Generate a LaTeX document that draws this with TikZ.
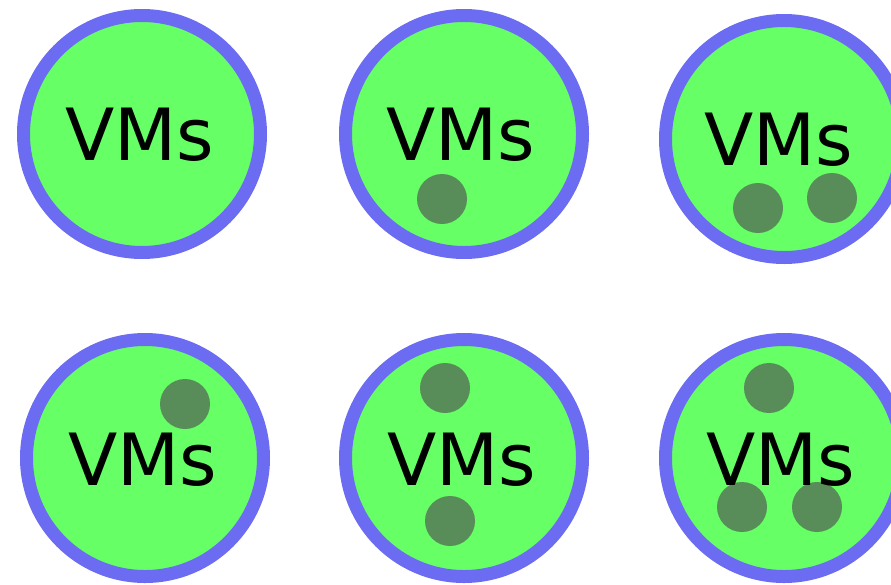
\documentclass[tikz,border=0pt]{standalone}
\usepackage{fontspec}
\setmainfont{DejaVu Sans}
\definecolor{vmgreen}{RGB}{102,255,102}
\definecolor{vmblue}{RGB}{108,108,242}
\definecolor{dotgreen}{RGB}{88,140,88}
\tikzset{
  vmcircle/.style={circle,draw=vmblue,fill=vmgreen,line width=13pt,minimum size=237pt,inner sep=0pt},
  vmlabel/.style={inner sep=0pt,anchor=base,font=\fontsize{72}{80}\selectfont,text=black},
  vmdot/.style={circle,fill=dotgreen,minimum size=50pt,inner sep=0pt}
}
\begin{document}
\begin{tikzpicture}[x=1pt,y=-1pt]
\useasboundingbox (0,0) rectangle (891,584);
% circles
\node[vmcircle] (c1) at (142,134) {};
\node[vmcircle] (c2) at (464,134) {};
\node[vmcircle] (c3) at (784,139) {};
\node[vmcircle] (c4) at (145,458) {};
\node[vmcircle] (c5) at (464,458) {};
\node[vmcircle] (c6) at (784,458) {};
% dots
\node[vmdot] (d21) at (442,199) {};
\node[vmdot] (d31) at (758,208) {};
\node[vmdot] (d32) at (832,198) {};
\node[vmdot] (d41) at (185,404) {};
\node[vmdot] (d51) at (445,388) {};
\node[vmdot] (d52) at (450,521) {};
\node[vmdot] (d61) at (769,388) {};
\node[vmdot] (d62) at (742,507) {};
\node[vmdot] (d63) at (817,507) {};
% labels
\node[vmlabel] (t1) at (140,160) {VMs};
\node[vmlabel] (t2) at (460.5,160) {VMs};
\node[vmlabel] (t3) at (779,165) {VMs};
\node[vmlabel] (t4) at (143,485) {VMs};
\node[vmlabel] (t5) at (462,485) {VMs};
\node[vmlabel] (t6) at (781,485) {VMs};
\end{tikzpicture}
\end{document}
